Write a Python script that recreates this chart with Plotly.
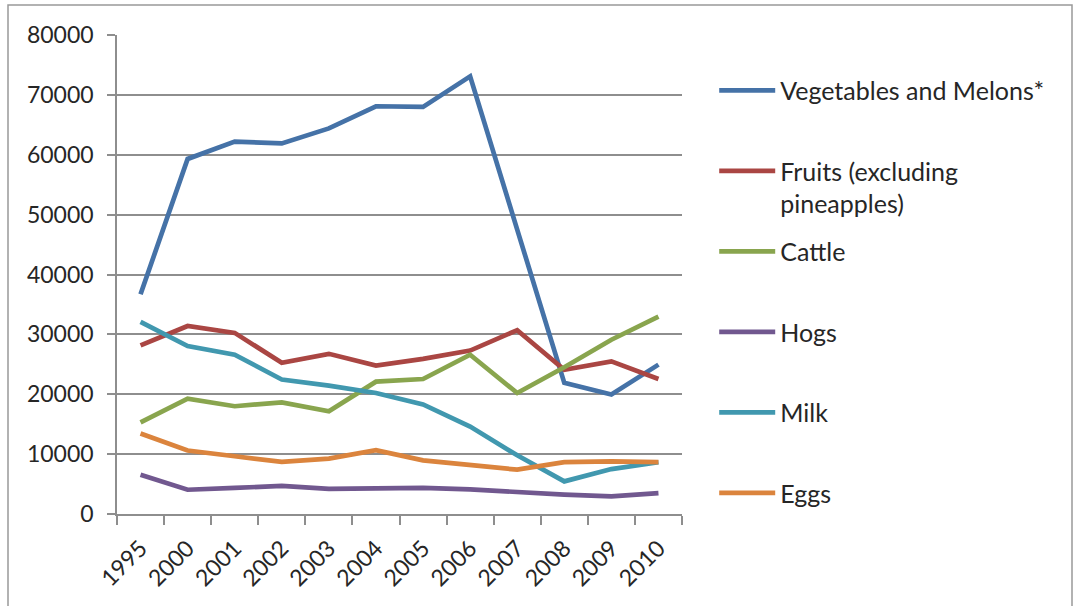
import plotly.graph_objects as go

years = ["1995", "2000", "2001", "2002", "2003", "2004", "2005", "2006", "2007", "2008", "2009", "2010"]
vegetables = [36700, 59300, 62200, 61900, 64400, 68100, 68000, 73100, 47500, 21900, 19950, 24950]
fruits = [28150, 31400, 30250, 25250, 26750, 24800, 25900, 27300, 30700, 24100, 25500, 22550]
cattle = [15300, 19250, 18000, 18650, 17150, 22100, 22550, 26600, 20200, 24500, 29100, 32950]
hogs = [6550, 4050, 4350, 4700, 4200, 4350, 4350, 4100, 3600, 3250, 2950, 3500]
milk = [32100, 28050, 26600, 22450, 21450, 20200, 18300, 14600, 9800, 5450, 7500, 8650]
eggs = [13450, 10600, 9650, 8700, 9250, 10650, 8950, 8250, 7400, 8650, 8800, 8650]

names = ["Vegetables and Melons*", "Fruits (excluding<br>pineapples)", "Cattle", "Hogs", "Milk", "Eggs"]
series = [vegetables, fruits, cattle, hogs, milk, eggs]
colors = ["#4572A7", "#AA4643", "#89A54E", "#71588F", "#4198AF", "#DB843D"]

FONT = "Lato"
TXT = "#262626"
GRID = "#8E8E8E"

fig = go.Figure()
for i, (nm, vals, col) in enumerate(zip(names, series, colors)):
    label = nm if "<br>" in nm else nm + "<br>\u00a0"
    fig.add_trace(go.Scatter(
        x=years, y=vals, mode="lines", name=label,
        line=dict(color=col, width=4.7),
        legendgroup=f"g{i}",
    ))

fig.update_layout(
    width=1074, height=606,
    margin=dict(l=117, r=392, t=35, b=92),
    paper_bgcolor="white", plot_bgcolor="white",
    font=dict(family=FONT, size=23, color=TXT),
    showlegend=True,
    legend=dict(
        x=1.057, y=0.932, xanchor="left", yanchor="top",
        font=dict(family=FONT, size=25, color=TXT),
        tracegroupgap=12.5, valign="top", itemwidth=56,
        maxheight=1000,
        bgcolor="rgba(0,0,0,0)",
    ),
    xaxis=dict(
        type="category", range=[-0.5, len(years) - 0.5], showgrid=False,
        showline=True, linecolor=GRID, linewidth=1.5,
        ticks="outside", tickson="boundaries", ticklen=9, tickcolor=GRID, tickwidth=1.5,
        tickangle=-45, tickfont=dict(family=FONT, size=23, color=TXT),
        ticklabelstandoff=10,
    ),
    yaxis=dict(
        range=[0, 80000], dtick=10000, tickformat="d",
        showgrid=True, gridcolor=GRID, gridwidth=1.5,
        showline=True, linecolor=GRID, linewidth=1.5,
        ticks="outside", ticklen=8, tickcolor=GRID, tickwidth=1.5,
        tickfont=dict(family=FONT, size=23, color=TXT),
        ticklabelstandoff=9,
        zeroline=False,
    ),
    shapes=[dict(
        type="rect", xref="paper", yref="paper",
        x0=(8 - 117) / 565, x1=(1072 - 117) / 565,
        y0=(514 - 620) / 479, y1=(514 - 5) / 479,
        line=dict(color="#999999", width=1.5), fillcolor="rgba(0,0,0,0)", layer="below",
    )],
)

fig.write_html("out.html", config={"displayModeBar": False},
               post_script="document.body.style.margin='0px';")
